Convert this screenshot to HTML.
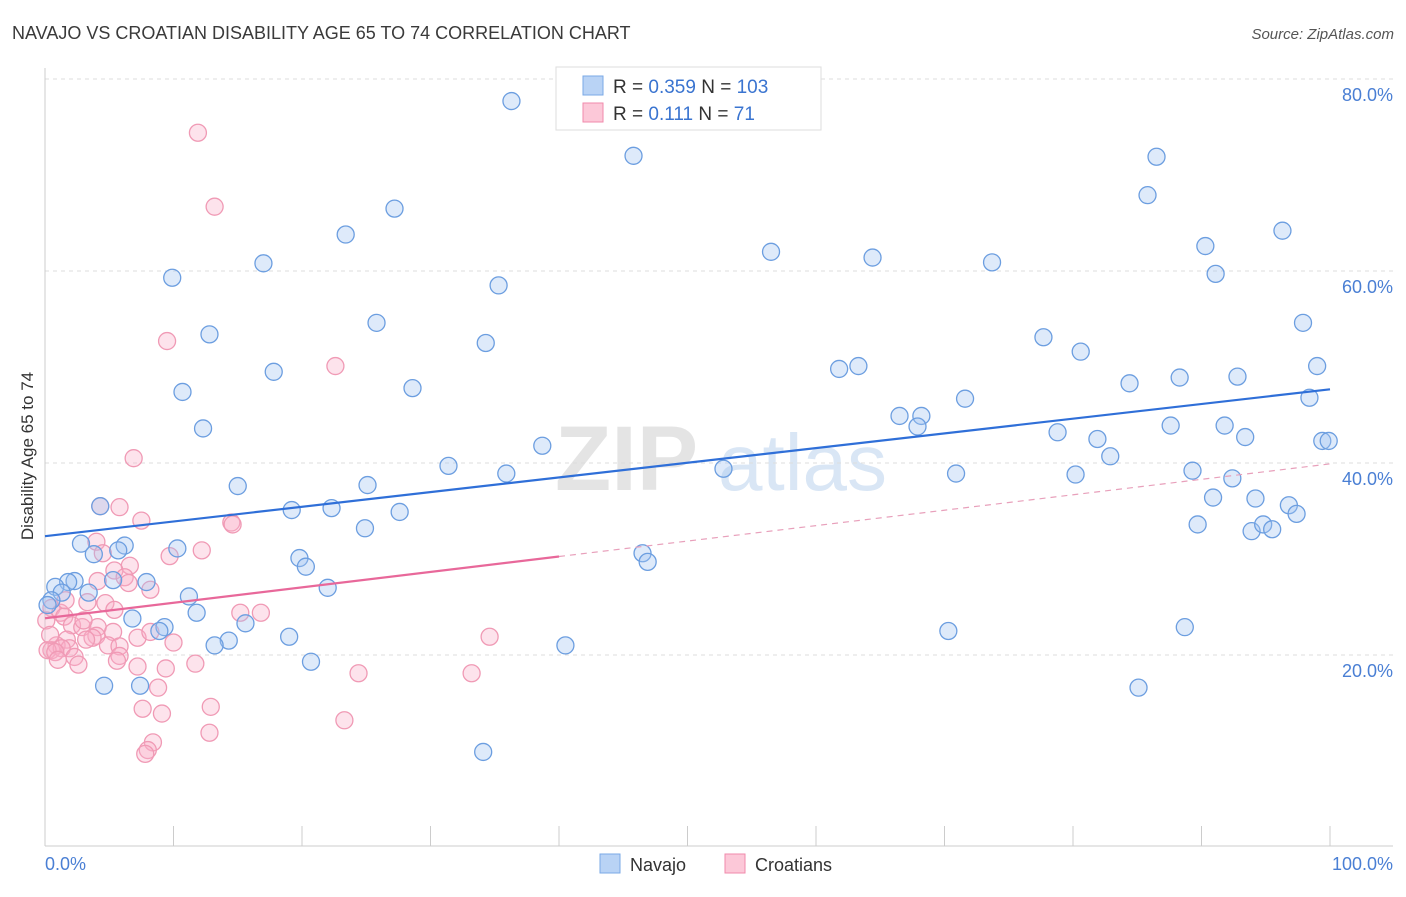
<!DOCTYPE html>
<html><head><meta charset="utf-8"><style>
body{margin:0;background:#fff;font-family:"Liberation Sans",sans-serif}
svg text{font-family:"Liberation Sans",sans-serif}
</style></head><body>
<svg id="chart" width="1406" height="892" viewBox="0 0 1406 892" xmlns="http://www.w3.org/2000/svg">
<text x="12" y="39" font-size="18" fill="#3a3a3a">NAVAJO VS CROATIAN DISABILITY AGE 65 TO 74 CORRELATION CHART</text>
<text x="1394" y="39" font-size="15" fill="#555" text-anchor="end" font-style="italic">Source: ZipAtlas.com</text>
<g><text x="555" y="490" font-size="92" fill="#e4e4e4" font-family="Liberation Serif" font-weight="bold">ZIP</text><text x="718" y="490" font-size="80" fill="#d9e6f5">atlas</text></g>
<g id="grid"></g>
<g id="axes"></g>
<g id="pts"></g>
<g id="trend"></g>
<text transform="translate(33,456) rotate(-90)" font-size="17" fill="#333" text-anchor="middle">Disability Age 65 to 74</text>
<g>
<rect x="556" y="67" width="265" height="63" fill="#fff" stroke="#ddd"/>
<rect x="583" y="76" width="20" height="19" fill="#b9d3f5" stroke="#7aa8e6"/>
<rect x="583" y="103" width="20" height="19" fill="#fcc8d8" stroke="#f08aab"/>
<text x="613" y="93" font-size="19" fill="#333">R = <tspan fill="#3a74d0">0.359</tspan>   N = <tspan fill="#3a74d0">103</tspan></text>
<text x="613" y="120" font-size="19" fill="#333">R =   <tspan fill="#3a74d0">0.111</tspan>   N =    <tspan fill="#3a74d0">71</tspan></text>
</g>
<g>
<rect x="600" y="854" width="20" height="19" fill="#b9d3f5" stroke="#7aa8e6"/>
<text x="630" y="871" font-size="18" fill="#333">Navajo</text>
<rect x="725" y="854" width="20" height="19" fill="#fcc8d8" stroke="#f08aab"/>
<text x="755" y="871" font-size="18" fill="#333">Croatians</text>
</g>
</svg>
<script>
const yTicks=[20,40,60,80];
const yTickLabels=["20.0%","40.0%","60.0%","80.0%"];
const xTickLabels=["0.0%","100.0%"];
const navajoX=[36.3,45.8,86.5,27.2,85.8,23.4,96.3,90.3,56.5,64.4,17.0,73.7,91.1,9.9,35.3,25.8,97.9,12.8,77.7,34.3,80.6,99.0,61.8,63.3,17.8,88.3,92.8,84.4,10.7,28.6,71.6,98.4,66.5,68.2,67.9,87.6,91.8,12.3,78.8,93.4,81.9,38.7,99.4,99.9,82.9,31.4,52.8,35.9,70.9,80.2,89.3,92.4,15.0,25.1,90.9,94.2,4.3,96.8,19.2,22.3,27.6,97.4,24.9,89.7,93.9,94.8,95.5,2.8,6.2,10.3,5.7,3.8,46.5,19.8,46.9,20.3,2.3,1.8,7.9,5.3,0.8,1.3,3.4,0.5,22.0,11.2,11.8,6.8,15.6,9.3,8.9,19.0,14.3,13.2,40.5,70.3,88.7,20.7,4.6,7.4,85.1,34.1,0.2];
const navajoY=[77.7,72.0,71.9,66.5,67.9,63.8,64.2,62.6,62.0,61.4,60.8,60.9,59.7,59.3,58.5,54.6,54.6,53.4,53.1,52.5,51.6,50.1,49.8,50.1,49.5,48.9,49.0,48.3,47.4,47.8,46.7,46.8,44.9,44.9,43.8,43.9,43.9,43.6,43.2,42.7,42.5,41.8,42.3,42.3,40.7,39.7,39.4,38.9,38.9,38.8,39.2,38.4,37.6,37.7,36.4,36.3,35.5,35.6,35.1,35.3,34.9,34.7,33.2,33.6,32.9,33.6,33.1,31.6,31.4,31.1,30.9,30.5,30.6,30.1,29.7,29.2,27.7,27.6,27.6,27.8,27.1,26.5,26.5,25.7,27.0,26.1,24.4,23.8,23.3,22.9,22.5,21.9,21.5,21.0,21.0,22.5,22.9,19.3,16.8,16.8,16.6,9.9,25.2];
const croatX=[11.9,13.2,9.5,22.6,6.9,4.3,5.8,7.5,14.5,14.6,4.0,4.5,12.2,9.7,6.6,5.4,6.2,4.1,6.5,8.2,3.3,4.7,5.4,15.2,16.8,0.5,1.2,1.5,2.1,2.9,4.1,5.3,4.0,3.7,7.2,8.2,10.0,4.9,5.8,1.7,0.9,0.5,1.9,1.3,0.2,0.8,2.3,2.6,5.8,5.6,7.2,9.4,11.7,24.4,33.2,34.6,8.8,7.6,9.1,12.9,23.3,12.8,8.4,8.0,7.8,0.1,0.4,3.0,3.2,1.0,1.6];
const croatY=[74.4,66.7,52.7,50.1,40.5,35.5,35.4,34.0,33.8,33.6,31.8,30.6,30.9,30.3,29.3,28.8,28.1,27.7,27.5,26.8,25.5,25.4,24.7,24.4,24.4,24.9,24.4,24.0,23.1,22.9,22.9,22.4,22.0,21.8,21.8,22.4,21.3,21.0,20.9,21.6,21.0,20.5,20.7,20.7,20.5,20.3,19.8,19.0,19.9,19.4,18.8,18.6,19.1,18.1,18.1,21.9,16.6,14.4,13.9,14.6,13.2,11.9,10.9,10.1,9.7,23.6,22.1,23.6,21.6,19.5,25.7];
const NS="http://www.w3.org/2000/svg";
const X=v=>45+v*12.85, Y=v=>847-v*9.6;
function mk(tag,attrs,parent){const e=document.createElementNS(NS,tag);for(const k in attrs)e.setAttribute(k,attrs[k]);document.getElementById(parent).appendChild(e);return e;}
yTicks.forEach((t,i)=>{
  const l=mk('line',{x1:45,x2:1393,y1:Y(t),y2:Y(t),stroke:'#ddd','stroke-dasharray':'4,4'},'grid');
  
  
  const tx=mk('text',{x:1393,y:Y(t)+22,'font-size':18,fill:'#4a7fd4','text-anchor':'end'},'grid');
  tx.textContent=yTickLabels[i];
  
  
});
const topG=mk('line',{x1:45,x2:1393,y1:79,y2:79,stroke:'#ddd','stroke-dasharray':'4,4'},'grid');
mk('line',{x1:45,x2:45,y1:68,y2:846,stroke:'#ccc'},'axes');
mk('line',{x1:45,x2:1393,y1:846,y2:846,stroke:'#ccc'},'axes');
for(let i=0;i<=10;i++){const t=mk('line',{x1:X(i*10),x2:X(i*10),y1:826,y2:846,stroke:'#ccc'},'axes');}
const x0=mk('text',{x:45,y:870,'font-size':18,fill:'#4a7fd4'},'axes');x0.textContent=xTickLabels[0];


const x1=mk('text',{x:1393,y:870,'font-size':18,fill:'#4a7fd4','text-anchor':'end'},'axes');x1.textContent=xTickLabels[1];


function pts(xs,ys,fill,stroke,name){xs.forEach((v,i)=>{const c=mk('circle',{cx:X(v),cy:Y(ys[i]),r:8.5,fill:fill,stroke:stroke,'stroke-width':1.3},'pts');
  
  });}
pts(croatX,croatY,'rgba(248,175,200,0.35)','#f09ab5','croatian-point');
pts(navajoX,navajoY,'rgba(160,195,240,0.35)','#6c9ee0','navajo-point');
function reg(xs,ys){const n=xs.length;let mx=0,my=0;for(let i=0;i<n;i++){mx+=xs[i];my+=ys[i];}mx/=n;my/=n;let sxy=0,sxx=0;for(let i=0;i<n;i++){sxy+=(xs[i]-mx)*(ys[i]-my);sxx+=(xs[i]-mx)**2;}const b=sxy/sxx;return [my-b*mx,b];}
const [ba,bb]=reg(navajoX,navajoY);
const bl=mk('line',{x1:X(0),y1:Y(ba),x2:X(100),y2:Y(ba+bb*100),stroke:'#2f6fd8','stroke-width':2.2},'trend');


const [pa,pb]=reg(croatX,croatY);
const pl=mk('line',{x1:X(0),y1:Y(pa),x2:X(40),y2:Y(pa+pb*40),stroke:'#e8689a','stroke-width':2.2},'trend');


const pd=mk('line',{x1:X(40),y1:Y(pa+pb*40),x2:X(100),y2:Y(pa+pb*100),stroke:'#e8a0bb','stroke-width':1.2,'stroke-dasharray':'6,5'},'trend');


</script>
</body></html>
